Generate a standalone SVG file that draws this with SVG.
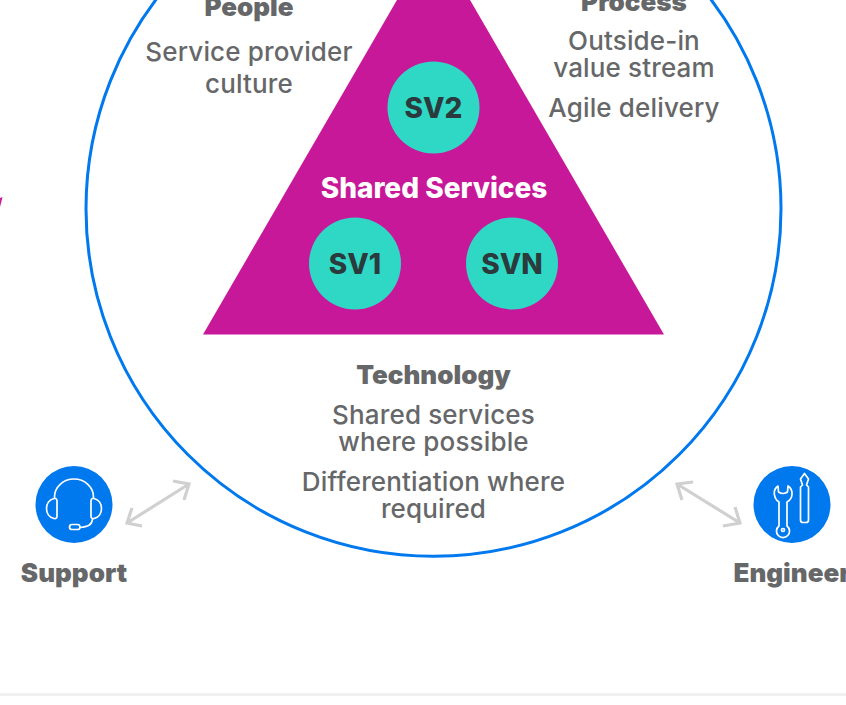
<svg xmlns="http://www.w3.org/2000/svg" width="846" height="705" viewBox="0 0 846 705">
<style>
text{font-family:Inter,"Liberation Sans",sans-serif;text-anchor:middle}
.h{font-size:26px;font-weight:900;fill:#666769}
.t{font-size:26px;font-weight:500;fill:#666769;letter-spacing:.15px}
.sv{font-size:28px;font-weight:800;fill:#2b3a3c}
.bub{fill:#2ed8c4}
.ic{fill:none;stroke:#fff;stroke-width:1.7;stroke-linecap:round;stroke-linejoin:round}
.ar{fill:none;stroke:#d0d0d0;stroke-width:3.200}
</style>
<rect width="846" height="705" fill="#fff"/>
<rect y="693" width="846" height="3" fill="#f1f1f1"/>
<path d="M0 207L2.500 197L0 198Z" fill="#c8189a"/>
<g id="circle"><circle cx="433.500" cy="208.800" r="347.500" fill="#fff" stroke="#0078ee" stroke-width="3"/></g>
<g id="triangle"><path d="M433.500 -63L664 334.500H203Z" fill="#c8189a"/><text x="434" y="198" font-size="28" font-weight="800" fill="#fff">Shared Services</text></g>
<g id="sv2"><circle class="bub" cx="433.500" cy="107.500" r="46"/><text class="sv" x="433.500" y="118">SV2</text></g>
<g id="sv1"><circle class="bub" cx="355" cy="263.500" r="46"/><text class="sv" x="355" y="274">SV1</text></g>
<g id="svn"><circle class="bub" cx="512" cy="263.500" r="46"/><text class="sv" x="512" y="274">SVN</text></g>
<g id="people"><text class="h" x="249" y="16">People</text><text class="t" x="249" y="61">Service provider</text><text class="t" x="249" y="93">culture</text></g>
<g id="process"><text class="h" x="634" y="11">Process</text><text class="t" x="634" y="50">Outside-in</text><text class="t" x="634" y="77">value stream</text><text class="t" x="634" y="117">Agile delivery</text></g>
<g id="technology"><text class="h" x="433.500" y="384">Technology</text><text class="t" x="433.500" y="424">Shared services</text><text class="t" x="433.500" y="451">where possible</text><text class="t" x="433.500" y="491">Differentiation where</text><text class="t" x="433.500" y="518">required</text></g>
<g id="support"><circle cx="74" cy="504.500" r="38.500" fill="#0078ee"/>
<path class="ic" d="M54.500 498V497A19.500 18 0 0 1 93.500 497V498M54 498.500C44 501 44 516 54 518.500Q57 519 57 516V501Q57 498 54 498.500ZM94 498.500C104 501 104 516 94 518.500Q91 519 91 516V501Q91 498 94 498.500ZM92.500 519C92 525 88 527 80 527.500"/><rect class="ic" x="69.500" y="524.500" width="10.500" height="5" rx="2.500"/>
<text class="h" x="74" y="582">Support</text></g>
<g id="engineer"><circle cx="792" cy="504.500" r="38.500" fill="#0078ee"/>
<path class="ic" d="M778 486C772 490 774 499 779 502L779 526A6.500 6.500 0 1 0 787 526L787 502C793 499 794 490 788 486L787.500 492Q783 495 778.500 492ZM804.500 473.500L800.500 479L802.500 485L800.500 487V520Q800.500 522.500 803 522.500H806Q808.500 522.500 808.500 520V487L806.500 485L808.500 479Z"/>
<circle class="ic" cx="783" cy="530" r="1.500"/>
<text class="h" x="792" y="582">Engineer</text></g>
<g id="connectors"><path class="ar" d="M127 523L189 484M173 481L189 484L184 500M132 508L127 523L142 526"/><path class="ar" d="M677 484L740 523M693 482L677 484L682 500M735 507L740 523L723 526"/></g>
</svg>
